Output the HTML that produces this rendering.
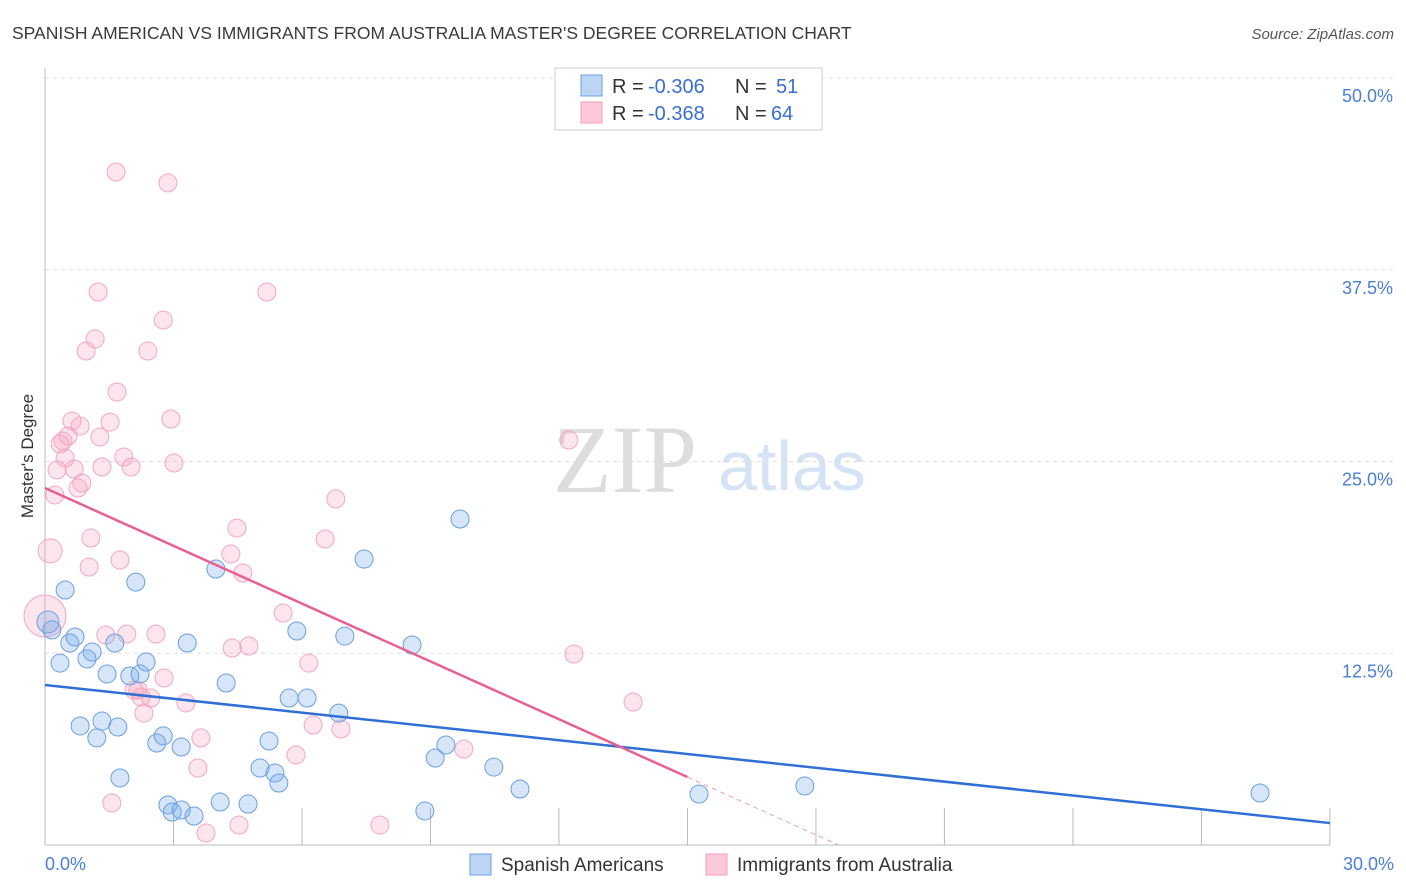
<!DOCTYPE html>
<html><head><meta charset="utf-8"><style>
body{margin:0;background:#fff;font-family:"Liberation Sans",sans-serif;}
</style></head><body>
<svg id="chart" width="1406" height="892" xmlns="http://www.w3.org/2000/svg" style="display:block">
<text x="12" y="39" font-size="17.5" fill="#3a3a3a">SPANISH AMERICAN VS IMMIGRANTS FROM AUSTRALIA MASTER'S DEGREE CORRELATION CHART</text>
<text x="1394" y="39" font-size="15" fill="#555" text-anchor="end" font-style="italic">Source: ZipAtlas.com</text>
<text transform="translate(33,456) rotate(-90)" font-size="17" fill="#333" text-anchor="middle">Master's Degree</text>
<text x="553" y="492" font-size="96" fill="#ddd" font-family="Liberation Serif,serif">ZIP</text>
<text x="718" y="490" font-size="70" fill="#d5e3f5">atlas</text>
<g id="grid"></g><g id="marks"></g>
<g>
<rect x="555" y="68" width="267" height="62" fill="#fff" stroke="#ccc"/>
<rect x="581" y="75" width="21" height="21" fill="#bcd5f5" stroke="#6a9fe0"/>
<rect x="581" y="102" width="21" height="21" fill="#fbc9d8" stroke="#f0a0b8"/>
<text x="612" y="93" font-size="20" fill="#333">R =</text>
<text x="648" y="93" font-size="20" fill="#3a6fd0">-0.306</text>
<text x="735" y="93" font-size="20" fill="#333">N =</text>
<text x="776" y="93" font-size="20" fill="#3a6fd0">51</text>
<text x="612" y="120" font-size="20" fill="#333">R =</text>
<text x="648" y="120" font-size="20" fill="#3a6fd0">-0.368</text>
<text x="735" y="120" font-size="20" fill="#333">N =</text>
<text x="771" y="120" font-size="20" fill="#3a6fd0">64</text>
</g>
<g>
<rect x="470" y="854" width="21" height="21" fill="#bcd5f5" stroke="#6a9fe0"/>
<text x="501" y="871" font-size="19" fill="#333">Spanish Americans</text>
<rect x="706" y="854" width="21" height="21" fill="#fbc9d8" stroke="#f0a0b8"/>
<text x="737" y="871" font-size="19" fill="#333">Immigrants from Australia</text>
</g>
</svg>
<script>
const yTicks=[12.5,25,37.5,50];
const xTickLabels=["0.0%","30.0%"];
const blueX=[0.07,.16,.47,.35,.58,.70,.98,1.10,.82,1.21,1.33,1.45,1.63,1.70,1.75,2.12,1.98,2.22,2.36,2.61,2.76,2.87,2.97,3.18,3.18,3.32,3.48,3.99,4.09,4.23,4.74,5.02,5.23,5.37,5.46,5.70,5.88,6.12,6.86,7.00,7.45,8.57,8.87,9.11,9.36,9.69,10.48,11.09,15.27,17.74,28.37];
const blueY=[14.54,14.02,16.62,11.86,13.17,13.56,12.13,12.58,7.76,6.98,8.08,11.15,13.17,7.69,4.37,17.14,11.02,11.15,11.93,6.65,7.11,2.61,2.15,2.28,6.39,13.17,1.89,17.99,2.80,10.56,2.67,5.02,6.78,4.69,4.04,9.58,13.95,9.58,8.60,13.62,18.64,13.04,2.22,5.67,6.52,21.25,5.08,3.65,3.32,3.85,3.39];
const pinkX=[0,.12,.23,.28,.35,.42,.47,.54,.63,.68,.77,.86,.82,1.03,1.07,.96,1.17,1.24,1.28,1.33,1.52,1.42,1.56,1.68,1.75,1.84,1.91,2.01,2.08,2.17,2.24,2.31,2.47,2.59,2.40,2.76,2.78,2.87,2.94,3.01,1.66,3.29,3.57,3.64,3.76,4.37,4.34,4.48,4.53,4.62,4.76,5.18,5.56,5.86,6.16,6.26,6.54,6.79,6.91,7.82,9.78,12.23,12.35,13.73];
const pinkY=[14.93,19.17,22.82,24.45,26.14,26.34,25.23,26.66,27.64,24.51,23.27,23.60,27.31,18.12,20.01,32.20,32.99,36.05,26.60,24.64,27.57,13.69,2.74,29.53,18.58,25.29,13.75,24.64,10.10,10.10,9.65,8.60,9.58,13.75,32.20,34.22,10.89,43.16,27.77,24.90,43.87,9.26,5.02,6.98,.78,12.84,18.97,20.66,1.30,17.73,12.97,36.05,15.12,5.87,11.86,7.82,19.95,22.56,7.56,1.30,6.26,26.40,12.45,9.32];
const blueTrend=[10.43,1.43];
const pinkTrend=[23.27,-1.256];
const NS="http://www.w3.org/2000/svg";
const X=v=>45+v*42.83, Y=v=>845-v*15.34;
function mk(t,a,p){const e=document.createElementNS(NS,t);for(const k in a)e.setAttribute(k,a[k]);p.appendChild(e);return e;}
const g=document.getElementById('grid'), m=document.getElementById('marks');
let ax=mk('line',{x1:45,y1:68,x2:45,y2:845,stroke:'#bbb'},g);


let bx=mk('line',{x1:45,y1:845,x2:1330,y2:845,stroke:'#bbb'},g);


yTicks.forEach(t=>{
 let l=mk('line',{x1:45,y1:Y(t),x2:1394,y2:Y(t),stroke:'#ddd','stroke-dasharray':'4,4'},g);
 
 
 let tx=mk('text',{x:1393,y:Y(t)+24,'font-size':18,fill:'#4a7fd4','text-anchor':'end'},g);tx.textContent=t.toFixed(1)+'%';
 
 
});
for(let i=1;i<=10;i++){let l=mk('line',{x1:X(i*3),y1:808,x2:X(i*3),y2:845,stroke:'#bbb'},g);
 
 }
[[0,'start',45],[30,'end',1394]].forEach((d,i)=>{let t=mk('text',{x:d[2],y:870,'font-size':18,fill:'#4a7fd4','text-anchor':d[1]},g);t.textContent=xTickLabels[i];
 
 });
function pts(xs,ys,fill,stroke,name){xs.forEach((x,i)=>{let r=9;if(name==='pink-point'&&i===0)r=21;if(name==='pink-point'&&i===1)r=12;if(name==='blue-point'&&i===0)r=11;
 let c=mk('circle',{cx:X(x),cy:Y(ys[i]),r:r,fill:fill,stroke:stroke,'stroke-width':1},m);
 
 });}
pts(pinkX,pinkY,'rgba(244,160,188,0.28)','#f0a8c0','pink-point');
pts(blueX,blueY,'rgba(120,168,232,0.3)','#6a9fe2','blue-point');
let bl=mk('line',{x1:X(0),y1:Y(blueTrend[0]),x2:X(30),y2:Y(blueTrend[1]),stroke:'#2f6fd6','stroke-width':2.5},m);


const pe=15, pz=-pinkTrend[0]/pinkTrend[1];
let pl=mk('line',{x1:X(0),y1:Y(pinkTrend[0]),x2:X(pe),y2:Y(pinkTrend[0]+pinkTrend[1]*pe),stroke:'#e8608f','stroke-width':2.5},m);


let pd=mk('line',{x1:X(pe),y1:Y(pinkTrend[0]+pinkTrend[1]*pe),x2:X(pz),y2:Y(0),stroke:'#e8a0b8','stroke-width':1,'stroke-dasharray':'5,4'},m);


</script>
</body></html>
